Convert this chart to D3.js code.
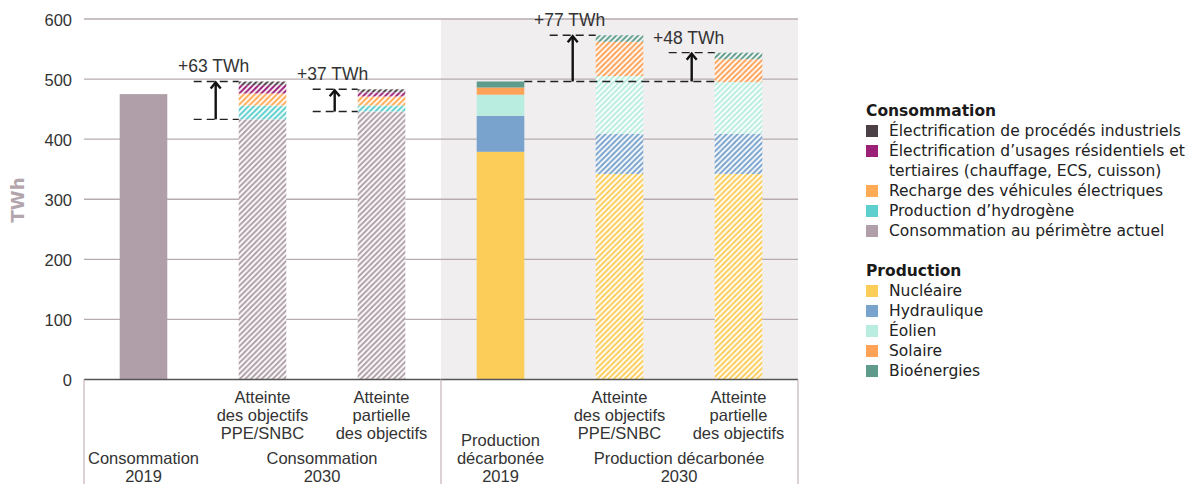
<!DOCTYPE html>
<html><head><meta charset="utf-8">
<script src="https://cdn.jsdelivr.net/npm/d3@7"></script>
<style>
html,body{margin:0;padding:0;background:#fff;}
svg{display:block;}
</style></head>
<body>
<svg id="chart" width="1193" height="484"></svg>
<script>
// ---------- DATA ----------
const categories = ["c2019","c2030a","c2030b","p2019","p2030a","p2030b"];
const hatched     = [false, true, true, false, true, true];
// Consommation (TWh)
const consoActuel = [475, 433, 446, 0, 0, 0];
const hydrogene   = [0, 23, 10, 0, 0, 0];
const vehicules   = [0, 20, 15, 0, 0, 0];
const residentiel = [0, 14, 7, 0, 0, 0];
const industriel  = [0, 6, 5, 0, 0, 0];
// Production (TWh)
const nucleaire   = [0, 0, 0, 379, 342, 342];
const hydraulique = [0, 0, 0, 60, 67, 67];
const eolien      = [0, 0, 0, 35, 96, 86];
const solaire     = [0, 0, 0, 12, 57, 38];
const bioenergies = [0, 0, 0, 10, 11, 11];

const yTicks = [0, 100, 200, 300, 400, 500, 600];
const deltaLabels = ["+63 TWh", "+37 TWh", "+77 TWh", "+48 TWh"];

// scenario labels (top-aligned under bars)
const scenarioLabels = [
  [1, ["Atteinte","des objectifs","PPE/SNBC"]],
  [2, ["Atteinte","partielle","des objectifs"]],
  [4, ["Atteinte","des objectifs","PPE/SNBC"]],
  [5, ["Atteinte","partielle","des objectifs"]]
];
// group labels (bottom-aligned)
const groupLabels = [
  [[0,0], ["Consommation","2019"]],
  [[1,2], ["Consommation","2030"]],
  [[3,3], ["Production","décarbonée","2019"]],
  [[4,5], ["Production décarbonée","2030"]]
];

const legendConso = [
  ["Électrification de procédés industriels", "industriel"],
  ["Électrification d’usages résidentiels et|tertiaires (chauffage, ECS, cuisson)", "residentiel"],
  ["Recharge des véhicules électriques", "vehicules"],
  ["Production d’hydrogène", "hydrogene"],
  ["Consommation au périmètre actuel", "consoActuel"]
];
const legendProd = [
  ["Nucléaire","nucleaire"],["Hydraulique","hydraulique"],["Éolien","eolien"],
  ["Solaire","solaire"],["Bioénergies","bioenergies"]
];

// ---------- STYLE ----------
const colors = {
  consoActuel:"#b09fa8", hydrogene:"#5ccfce", vehicules:"#ffab55",
  residentiel:"#9a2078", industriel:"#4a4045",
  nucleaire:"#fccd58", hydraulique:"#79a3cd", eolien:"#b8eddf",
  solaire:"#fda257", bioenergies:"#5f9b8b"
};
const seriesOrder = ["consoActuel","hydrogene","vehicules","residentiel","industriel",
                     "nucleaire","hydraulique","eolien","solaire","bioenergies"];
const seriesData = {consoActuel, hydrogene, vehicules, residentiel, industriel,
                    nucleaire, hydraulique, eolien, solaire, bioenergies};

const AX = "'Liberation Sans', Arial, sans-serif";
const LG = "'DejaVu Sans', Verdana, sans-serif";

const svg = d3.select("#chart");
const pL = 84, pR = 798, pT = 19, pB = 379.5;

const x = d3.scaleBand().domain(categories).range([pL, pR]).paddingInner(0.6).paddingOuter(0.3);
const y = d3.scaleLinear().domain([0, 600]).range([pB, pT]);
const step = x.step(), bw = x.bandwidth();

// patterns
const defs = svg.append("defs");
seriesOrder.forEach(k => {
  const p = defs.append("pattern").attr("id","h_"+k).attr("patternUnits","userSpaceOnUse")
    .attr("width",5.5).attr("height",5.5);
  p.append("rect").attr("width",5.5).attr("height",5.5).attr("fill",colors[k]);
  p.append("path").attr("d","M-1,6.5 L6.5,-1 M-1,1 L1,-1 M4.5,6.5 L6.5,4.5")
    .attr("stroke","#fff").attr("stroke-width",1.8);
});

// shaded production region
const shadeX = x(categories[3]) - step*0.3;
svg.append("rect").attr("x", shadeX).attr("y", pT).attr("width", pR - shadeX)
  .attr("height", pB - pT).attr("fill", "#f0eeef");

// gridlines
svg.append("g").selectAll("line").data(yTicks.filter(d=>d>0)).join("line")
  .attr("x1", pL).attr("x2", pR).attr("y1", d=>y(d)).attr("y2", d=>y(d))
  .attr("stroke","#b6abb0").attr("stroke-width",1.3);

// y axis tick labels
const yAxis = d3.axisLeft(y).tickValues(yTicks).tickSize(0).tickPadding(12);
const ya = svg.append("g").attr("transform",`translate(${pL},1)`).call(yAxis);
ya.select(".domain").remove();
ya.selectAll("text").attr("font-family",AX).attr("font-size",16.5).attr("fill","#333");

svg.append("text").attr("transform",`translate(24,200) rotate(-90)`)
  .attr("text-anchor","middle").attr("font-family",LG).attr("font-weight","bold")
  .attr("font-size",18).attr("fill","#b3a5ac").text("TWh");

// stacked bars
const stackInput = categories.map((c,i) => {
  const o = {cat:c, i};
  seriesOrder.forEach(k => o[k] = seriesData[k][i]);
  return o;
});
const stacked = d3.stack().keys(seriesOrder)(stackInput);
const totals = categories.map((c,i) => d3.sum(seriesOrder, k => seriesData[k][i]));

svg.append("g").selectAll("g").data(stacked).join("g")
  .each(function(s){
    d3.select(this).selectAll("rect").data(s.filter(d=>d[1]-d[0]>0)).join("rect")
      .attr("x", d=>x(d.data.cat)).attr("width", bw)
      .attr("y", d=>y(d[1])).attr("height", d=>y(d[0])-y(d[1]))
      .attr("fill", d=> hatched[d.data.i] ? `url(#h_${s.key})` : colors[s.key]);
  });

// axis lines
svg.append("line").attr("x1",pL).attr("x2",pR).attr("y1",pB).attr("y2",pB)
  .attr("stroke","#555").attr("stroke-width",1.3);
[pL, shadeX, pR].forEach(xx => {
  svg.append("line").attr("x1",xx).attr("x2",xx).attr("y1",pB).attr("y2",484)
    .attr("stroke","#c9b9c1").attr("stroke-width",1.3);
});

// category labels
const lh = 17.8;
function multiline(cx, lines, firstBaseline){
  const t = svg.append("text").attr("text-anchor","middle").attr("font-family",AX)
    .attr("font-size",16.5).attr("fill","#333");
  lines.forEach((l,j) => t.append("tspan").attr("x",cx).attr("y", firstBaseline + j*lh).text(l));
}
scenarioLabels.forEach(([ci, lines]) => {
  multiline(x(categories[ci]) + bw/2, lines, 403);
});
groupLabels.forEach(([idx, lines]) => {
  const cx = (x(categories[idx[0]]) + x(categories[idx[1]]) + bw)/2;
  multiline(cx, lines, 481.5 - (lines.length-1)*lh);
});

// delta annotations
const dash = "8,5";
function hline(x1,x2,v){
  svg.append("line").attr("x1",x1).attr("x2",x2).attr("y1",y(v)).attr("y2",y(v))
    .attr("stroke","#222").attr("stroke-width",1.4).attr("stroke-dasharray",dash);
}
function arrow(ax, v0, v1){
  const y0 = y(v0), y1 = y(v1);
  svg.append("line").attr("x1",ax).attr("x2",ax).attr("y1",y0).attr("y2",y1+1)
    .attr("stroke","#111").attr("stroke-width",2.4);
  svg.append("path").attr("d",`M${ax-5},${y1+7} L${ax},${y1+1} L${ax+5},${y1+7}`)
    .attr("fill","none").attr("stroke","#111").attr("stroke-width",2.4);
}
function label(ax, v, txt){
  svg.append("text").attr("x",ax).attr("y",y(v)-9).attr("text-anchor","middle")
    .attr("font-family",AX).attr("font-size",17.5).attr("fill","#333").text(txt);
}
// consommation
[[1,0],[2,1]].forEach(([ci,li]) => {
  const bx = x(categories[ci]);
  const base = consoActuel[ci], tot = totals[ci];
  hline(bx-45, bx, base);
  hline(bx-45, bx, tot);
  arrow(bx-23, base, tot);
  label(bx-25, tot, deltaLabels[li]);
});
// production
const prodBase = totals[3];
hline(x(categories[3]) + bw, x(categories[5]), prodBase);
[[4,2],[5,3]].forEach(([ci,li]) => {
  const bx = x(categories[ci]);
  const tot = totals[ci];
  hline(bx-46, bx, tot);
  arrow(bx-23, prodBase, tot);
  label(bx-26, tot, deltaLabels[li]);
});

// legend
const lgx = 866, ltx = 889;
function legendBlock(title, items, y0){
  svg.append("text").attr("x",lgx).attr("y",y0).attr("font-family",LG).attr("font-weight","bold")
    .attr("font-size",15.5).attr("fill","#1a1a1a").text(title);
  let yy = y0 + 20;
  items.forEach(([lab,key]) => {
    svg.append("rect").attr("x",lgx).attr("y",yy-11).attr("width",12).attr("height",12)
      .attr("fill",colors[key]);
    lab.split("|").forEach(l => {
      svg.append("text").attr("x",ltx).attr("y",yy).attr("font-family",LG)
        .attr("font-size",15.5).attr("fill","#222").text(l);
      yy += 20;
    });
  });
}
legendBlock("Consommation", legendConso, 116);
legendBlock("Production", legendProd, 276);
</script>
</body></html>
